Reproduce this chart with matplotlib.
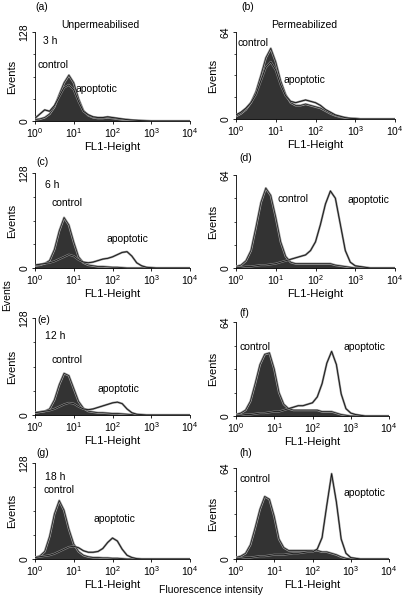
import numpy as np
import matplotlib
matplotlib.use("Agg")
import matplotlib.pyplot as plt

plt.rcParams['font.family'] = ['Liberation Sans', 'DejaVu Sans']
plt.rcParams['mathtext.fontset'] = 'custom'
plt.rcParams['mathtext.rm'] = 'Liberation Sans'

# log10 channel positions (every 1/8 decade from 10^0 to 10^4)
log_pos = np.arange(0, 4.0001, 0.125)

panels = ['a', 'b', 'c', 'd', 'e', 'f', 'g', 'h']
ymax = {'a': 128, 'b': 64, 'c': 128, 'd': 64, 'e': 128, 'f': 64, 'g': 128, 'h': 64}

control = {
    'a': [2, 3, 5, 10, 20, 38, 55, 66, 55, 32, 15, 8, 5, 4, 4, 5, 4, 3, 2, 2, 1, 1, 0.5, 0, 0, 0, 0, 0, 0, 0, 0, 0, 0],
    'b': [2, 4, 7, 12, 20, 32, 45, 52, 42, 28, 18, 12, 10, 10, 11, 10, 9, 8, 6, 4, 2.5, 1.5, 1, 0.5, 0.3, 0, 0, 0, 0, 0, 0, 0, 0],
    'c': [3, 4, 6, 10, 25, 50, 68, 58, 35, 15, 7, 4, 3, 2, 2, 1.5, 1, 1, 0.5, 0, 0, 0, 0, 0, 0, 0, 0, 0, 0, 0, 0, 0, 0],
    'd': [1, 2, 5, 12, 28, 45, 55, 50, 35, 18, 8, 4, 3, 3, 3, 3, 3, 3, 3, 3, 2, 1.5, 1, 0.5, 0, 0, 0, 0, 0, 0, 0, 0, 0],
    'e': [3, 4, 5, 8, 20, 40, 55, 52, 35, 18, 9, 5, 4, 3, 3, 2.5, 2, 2, 1.5, 1, 0.5, 0, 0, 0, 0, 0, 0, 0, 0, 0, 0, 0, 0],
    'f': [1, 2, 4, 10, 22, 35, 42, 43, 32, 16, 8, 5, 4, 4, 4, 4, 4, 4, 3, 3, 3, 2, 1, 0.5, 0, 0, 0, 0, 0, 0, 0, 0, 0],
    'g': [2, 4, 10, 30, 60, 78, 65, 40, 20, 10, 5, 3, 2, 2, 1.5, 1.5, 1, 1, 0.5, 0, 0, 0, 0, 0, 0, 0, 0, 0, 0, 0, 0, 0, 0],
    'h': [1, 2, 4, 10, 22, 35, 44, 42, 30, 14, 8, 6, 6, 6, 6, 6, 6, 6, 5, 5, 4, 3, 1.5, 0.5, 0, 0, 0, 0, 0, 0, 0, 0, 0],
}

apoptotic = {
    'a': [4, 10, 16, 14, 22, 35, 48, 52, 45, 28, 14, 9, 6, 5, 5, 6, 5, 4, 3, 2, 1.5, 1, 0.5, 0.3, 0, 0, 0, 0, 0, 0, 0, 0, 0],
    'b': [3, 5, 8, 12, 18, 28, 38, 42, 36, 25, 17, 13, 12, 13, 14, 13, 12, 10, 7, 5, 3, 2, 1, 0.5, 0.3, 0, 0, 0, 0, 0, 0, 0, 0],
    'c': [4, 5, 6, 7, 9, 12, 15, 18, 16, 11, 8, 7, 8, 10, 12, 13, 15, 18, 21, 22, 16, 7, 3, 1, 0.5, 0, 0, 0, 0, 0, 0, 0, 0],
    'd': [0.5, 0.5, 1, 1, 1.5, 2, 2, 2.5, 3, 4, 5, 6, 7, 8, 9, 12, 18, 30, 44, 53, 48, 30, 12, 4, 1.5, 1, 0.5, 0, 0, 0, 0, 0, 0],
    'e': [3, 4, 5, 6, 8, 11, 14, 16, 15, 11, 8, 7, 8, 10, 12, 14, 16, 17, 15, 8, 3, 1, 0.5, 0, 0, 0, 0, 0, 0, 0, 0, 0, 0],
    'f': [0.5, 0.5, 1, 1, 1.5, 2, 2, 2.5, 3, 3, 4, 5, 6, 7, 7, 8, 9, 13, 22, 36, 44, 35, 15, 5, 2, 1, 0.5, 0, 0, 0, 0, 0, 0],
    'g': [2, 3, 4, 5, 7, 10, 13, 16, 17, 15, 11, 9, 9, 10, 14, 22, 28, 24, 13, 5, 2, 0.5, 0, 0, 0, 0, 0, 0, 0, 0, 0, 0, 0],
    'h': [0.5, 0.5, 1, 1, 1.5, 2, 2, 2.5, 3, 3, 3, 3.5, 4, 4, 4.5, 5, 5, 7, 15, 38, 60, 40, 14, 4, 1, 0.5, 0, 0, 0, 0, 0, 0, 0],
}

panel_time = {'a': '3 h', 'c': '6 h', 'e': '12 h', 'g': '18 h'}
panel_title = {'a': 'Unpermeabilised', 'b': 'Permeabilized'}

# axes boxes in pixels: x0, x1, y0(top), y1(bottom)
W, H = 408, 604
boxes = {
    'a': (35, 190, 32, 121), 'b': (236, 395, 32, 119),
    'c': (35, 190, 173, 268), 'd': (236, 395, 175, 268),
    'e': (35, 190, 318, 415), 'f': (236, 389, 322, 416),
    'g': (35, 190, 463, 559), 'h': (236, 389, 468, 559),
}
# text positions in pixels (x, y)
lab_pos = {'a': (35, 7), 'b': (241, 7), 'c': (36, 162), 'd': (239, 158),
           'e': (37, 320), 'f': (239, 313), 'g': (36, 453), 'h': (239, 453)}
ctrl_pos = {'a': (38, 65), 'b': (237, 43), 'c': (51, 203), 'd': (277, 199),
            'e': (51, 360), 'f': (239, 347), 'g': (44, 490), 'h': (240, 479)}
apo_pos = {'a': (75, 89), 'b': (283, 80), 'c': (106, 239), 'd': (347, 200),
           'e': (97, 389), 'f': (343, 347), 'g': (93, 519), 'h': (343, 493)}
time_pos = {'a': (43, 41), 'c': (45, 185), 'e': (45, 336), 'g': (45, 477)}
title_pos = {'a': (100, 25), 'b': (304, 25)}

fig = plt.figure(figsize=(W / 100, H / 100), dpi=100)
fs = 7.5

def fx(px):
    return px / W

def fy(py):
    return 1 - py / H

xs = 10 ** log_pos
for p in panels:
    x0, x1, y0, y1 = boxes[p]
    ax = fig.add_axes([fx(x0), fy(y1), fx(x1 - x0), (y1 - y0) / H])
    yc = np.array(control[p], dtype=float)
    ya = np.array(apoptotic[p], dtype=float)
    ax.fill_between(xs, 0, yc, color='#333333', lw=0, zorder=2)
    ax.plot(xs, yc, color='#a0a0a0', lw=1.6, zorder=3)
    ax.plot(xs, yc, color='#222222', lw=0.6, zorder=4)
    ax.plot(xs, ya, color='#8c8c8c', lw=1.5, zorder=5)
    ax.plot(xs, ya, color='#111111', lw=0.6, zorder=6)
    ax.set_xscale('log')
    ax.set_xlim(1, 1e4)
    ax.set_ylim(0, ymax[p])
    ax.set_yticks([0, ymax[p]])
    ax.set_yticks(np.linspace(0, ymax[p], 5), minor=True)
    ax.set_yticklabels(['0', str(ymax[p])], rotation=90, va='center', fontsize=fs)
    ax.set_xticks([1, 10, 100, 1000, 10000])
    ax.set_xticklabels([r'$10^0$', r'$10^1$', r'$10^2$', r'$10^3$', r'$10^4$'], fontsize=fs)
    ax.tick_params(axis='both', which='major', length=2.5, width=0.6, pad=1.5)
    ax.tick_params(axis='both', which='minor', length=1.5, width=0.5)
    for s in ['top', 'right']:
        ax.spines[s].set_visible(False)
    for s in ['left', 'bottom']:
        ax.spines[s].set_linewidth(0.6)
    ax.set_xlabel('FL1-Height', fontsize=fs + 0.7, labelpad=1)
    ax.set_ylabel('Events', fontsize=fs + 0.5, labelpad=2)

    def t(pos, s, ha='left'):
        fig.text(fx(pos[0]), fy(pos[1]), s, fontsize=fs, ha=ha, va='center')
    t(lab_pos[p], '(%s)' % p)
    t(ctrl_pos[p], 'control')
    t(apo_pos[p], 'apoptotic')
    if p in panel_time:
        t(time_pos[p], panel_time[p])
    if p in panel_title:
        t(title_pos[p], panel_title[p], ha='center')

fig.text(fx(7), fy(295), 'Events', rotation=90, fontsize=fs, ha='center', va='center')
fig.text(fx(211), fy(590), 'Fluorescence intensity', fontsize=fs, ha='center', va='center')

fig.savefig('out.png', dpi=100, facecolor='white')
